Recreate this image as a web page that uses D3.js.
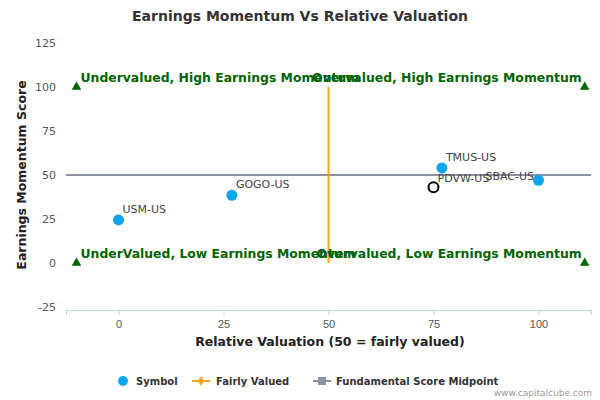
<!DOCTYPE html>
<html><head><meta charset="utf-8">
<script src="https://cdn.jsdelivr.net/npm/d3@7"></script>
<style>body{margin:0;background:#fff}</style>
</head><body><div id="chart"></div>
<script>
const symbols = ['USM-US', 'GOGO-US', 'TMUS-US', 'SBAC-US'];
const valuation = [0, 27, 77, 100];
const momentum = [24.5, 38.5, 54, 47];
const target = { name: 'PDVW-US', x: 75, y: 43 };
const xTicks = [0, 25, 50, 75, 100];
const yTicks = [-25, 0, 25, 50, 75, 100, 125];
const corners = [[-10, 100], [111, 100], [-10, 0], [111, 0]];
const quadrants = [
  { text: 'Undervalued, High Earnings Momentum', x: -10, y: 100, anchor: 'start' },
  { text: 'Overvalued, High Earnings Momentum', x: 111, y: 100, anchor: 'end' },
  { text: 'UnderValued, Low Earnings Momentum', x: -10, y: 0, anchor: 'start' },
  { text: 'Overvalued, Low Earnings Momentum', x: 111, y: 0, anchor: 'end' }
];

const svg = d3.select('#chart').append('svg').attr('width', 600).attr('height', 400)
  .style('font-family', '"DejaVu Sans", sans-serif');

const x = d3.scaleLinear().domain([-12.5, 112.5]).range([66, 591]);
const y = d3.scaleLinear().domain([-25, 125]).range([307, 43]);

svg.append('text').attr('x', 300).attr('y', 21).attr('text-anchor', 'middle')
  .style('font-size', '14px').style('font-weight', 'bold').attr('fill', '#333')
  .text('Earnings Momentum Vs Relative Valuation');

// axes
const gx = svg.append('g').attr('transform', 'translate(0,310)')
  .call(d3.axisBottom(x).tickValues(xTicks).tickSize(5));
gx.select('.domain').attr('stroke', '#c0d0e0');
gx.selectAll('.tick line').attr('stroke', '#c0d0e0');
gx.selectAll('text').style('font-size', '11px').attr('fill', '#555').attr('dy', '0.9em');

yTicks.forEach(t => svg.append('text').attr('x', 56).attr('y', y(t) + 4)
  .attr('text-anchor', 'end').style('font-size', '11px').attr('fill', '#555').text(t));

svg.append('text').attr('x', 330).attr('y', 346).attr('text-anchor', 'middle')
  .style('font-size', '12.5px').style('font-weight', 'bold').attr('fill', '#222')
  .text('Relative Valuation (50 = fairly valued)');
svg.append('text').attr('transform', `translate(26,${y(50)}) rotate(-90)`).attr('text-anchor', 'middle')
  .style('font-size', '12.5px').style('font-weight', 'bold').attr('fill', '#222')
  .text('Earnings Momentum Score');

// midlines
svg.append('line').attr('x1', x(-12.5)).attr('x2', x(112.5)).attr('y1', y(50)).attr('y2', y(50))
  .attr('stroke', '#8c92a0').attr('stroke-width', 2);
svg.append('line').attr('x1', x(50)).attr('x2', x(50)).attr('y1', y(100)).attr('y2', y(0))
  .attr('stroke', '#f7a21b').attr('stroke-width', 2);

// corner triangles
svg.selectAll('.tri').data(corners).join('path')
  .attr('d', d3.symbol(d3.symbolTriangle, 40))
  .attr('transform', d => `translate(${x(d[0])},${y(d[1])})`).attr('fill', '#006400');

svg.selectAll('.quad').data(quadrants).join('text')
  .attr('x', d => x(d.x) + (d.anchor === 'start' ? 4 : -3)).attr('y', d => y(d.y) - 5)
  .attr('text-anchor', d => d.anchor).style('font-size', '12.4px').style('font-weight', 'bold')
  .attr('fill', '#006400').text(d => d.text);

// points
symbols.forEach((s, i) => {
  svg.append('circle').attr('cx', x(valuation[i])).attr('cy', y(momentum[i])).attr('r', 5.5).attr('fill', '#0ea5ee');
  svg.append('text').attr('x', x(valuation[i]) + (s === 'SBAC-US' ? -53 : 4))
    .attr('y', y(momentum[i]) - (s === 'SBAC-US' ? 0 : 7))
    .style('font-size', '11px').attr('fill', '#444').text(s);
});
svg.append('circle').attr('cx', x(target.x)).attr('cy', y(target.y)).attr('r', 5)
  .attr('fill', 'none').attr('stroke', '#000').attr('stroke-width', 2);
svg.append('text').attr('x', x(target.x) + 4).attr('y', y(target.y) - 5)
  .style('font-size', '11px').attr('fill', '#444').text(target.name);

// legend
const lg = svg.append('g').style('font-size', '10px').style('font-weight', 'bold').attr('fill', '#333');
lg.append('circle').attr('cx', 123).attr('cy', 381).attr('r', 5).attr('fill', '#0ea5ee');
lg.append('text').attr('x', 136).attr('y', 385).text('Symbol');
lg.append('line').attr('x1', 192).attr('x2', 210).attr('y1', 381).attr('y2', 381).attr('stroke', '#f7a21b').attr('stroke-width', 2);
lg.append('path').attr('d', d3.symbol(d3.symbolDiamond, 30)).attr('transform', 'translate(201,381)').attr('fill', '#f7a21b');
lg.append('text').attr('x', 216).attr('y', 385).text('Fairly Valued');
lg.append('line').attr('x1', 313).attr('x2', 331).attr('y1', 381).attr('y2', 381).attr('stroke', '#8c92a0').attr('stroke-width', 2);
lg.append('rect').attr('x', 318).attr('y', 377).attr('width', 8).attr('height', 8).attr('fill', '#8c92a0');
lg.append('text').attr('x', 336).attr('y', 385).text('Fundamental Score Midpoint');

svg.append('text').attr('x', 592).attr('y', 396).attr('text-anchor', 'end')
  .style('font-size', '9px').attr('fill', '#999').text('www.capitalcube.com');
</script></body></html>
